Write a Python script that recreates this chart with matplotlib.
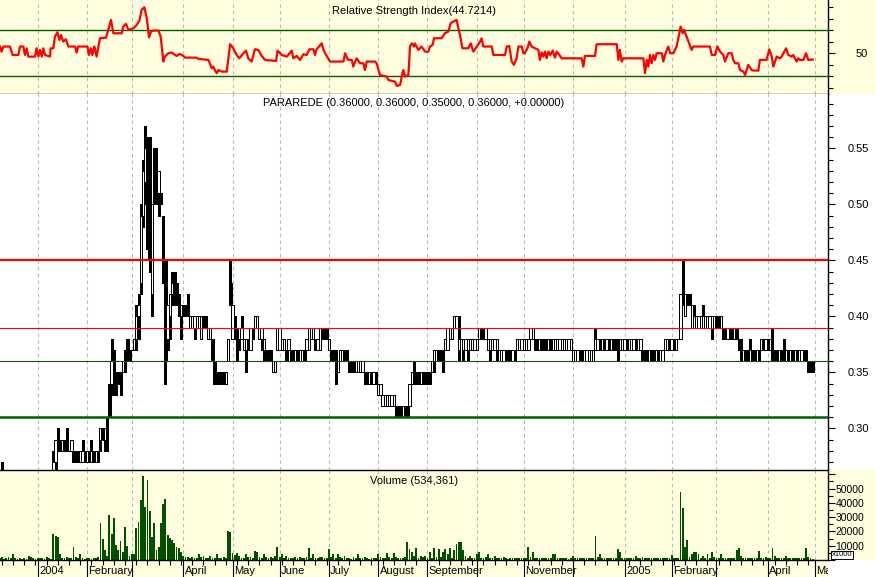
import numpy as np
import pandas as pd
import matplotlib
matplotlib.use("Agg")
import matplotlib.pyplot as plt
import matplotlib.transforms as mtransforms
from matplotlib.patches import Rectangle

plt.rcParams['font.family'] = ['Liberation Sans', 'DejaVu Sans']

# -------------------------------
# Data (prices in cents, volume in x1000 units)
# -------------------------------
dates = pd.bdate_range('2003-12-09', '2005-05-03')

opens = [25, 25, 26, 25, 26, 25, 25, 26, 25, 24,
         25, 26, 25, 26, 25, 25, 26, 25, 26, 25,
         26, 26, 25, 26, 26, 27, 29, 29, 28, 29,
         29, 28, 28, 28, 28, 28, 27, 27, 28, 27,
         28, 27, 28, 27, 28, 29, 30, 29, 31, 34,
         34, 35, 35, 35, 35, 35, 36, 38, 37, 37,
         37, 38, 40, 43, 49, 52, 55, 48, 42, 54,
         52, 51, 51, 48, 45, 38, 40, 42, 44, 43,
         42, 40, 41, 41, 41, 39, 39, 39, 39, 39,
         38, 40, 40, 38, 38, 38, 36, 35, 35, 35,
         35, 34, 36, 43, 38, 40, 39, 38, 38, 37,
         37, 38, 37, 39, 39, 39, 38, 38, 37, 37,
         37, 37, 35, 35, 37, 37, 37, 37, 37, 37,
         37, 37, 36, 37, 36, 36, 37, 37, 37, 38,
         38, 38, 37, 37, 39, 39, 39, 37, 37, 37,
         37, 35, 36, 36, 37, 37, 36, 36, 36, 35,
         35, 35, 35, 35, 35, 34, 35, 34, 35, 33,
         33, 32, 32, 32, 32, 32, 32, 32, 32, 32,
         31, 32, 32, 32, 34, 35, 35, 35, 34, 35,
         35, 35, 35, 35, 36, 36, 37, 37, 37, 37,
         37, 38, 38, 39, 39, 37, 36, 37, 37, 37,
         37, 37, 37, 37, 38, 39, 39, 38, 37, 37,
         37, 37, 37, 36, 36, 36, 37, 37, 37, 36,
         37, 37, 37, 37, 37, 37, 37, 38, 38, 38,
         38, 37, 38, 38, 38, 37, 38, 37, 37, 37,
         37, 37, 37, 37, 37, 37, 36, 36, 36, 37,
         37, 36, 36, 36, 36, 36, 37, 37, 38, 37,
         38, 37, 38, 37, 38, 38, 38, 37, 37, 37,
         38, 37, 37, 37, 38, 37, 37, 37, 37, 37,
         36, 37, 37, 36, 37, 36, 36, 37, 37, 38,
         37, 38, 37, 38, 38, 43, 40, 42, 42, 39,
         41, 39, 39, 39, 41, 39, 39, 39, 39, 39,
         40, 40, 39, 39, 39, 38, 39, 39, 38, 39,
         38, 38, 36, 37, 37, 36, 37, 37, 36, 37,
         37, 38, 37, 38, 37, 37, 37, 37, 36, 37,
         37, 36, 37, 36, 37, 36, 37, 36, 36, 37,
         37, 36, 36, 36]

highs = [26, 27, 26, 26, 26, 26, 26, 26, 25, 25,
         26, 26, 26, 26, 25, 26, 26, 26, 26, 26,
         26, 26, 26, 26, 28, 29, 30, 29, 29, 29,
         30, 28, 29, 28, 28, 28, 28, 29, 28, 28,
         28, 29, 28, 28, 28, 30, 30, 30, 31, 34,
         38, 37, 35, 35, 35, 36, 37, 38, 37, 37,
         38, 41, 42, 50, 54, 57, 56, 56, 50, 55,
         55, 53, 51, 49, 45, 41, 42, 44, 44, 43,
         42, 41, 41, 41, 42, 40, 40, 40, 40, 40,
         40, 40, 40, 39, 39, 38, 36, 35, 35, 35,
         35, 35, 38, 45, 41, 40, 39, 39, 40, 38,
         38, 38, 39, 39, 40, 40, 39, 39, 38, 37,
         37, 37, 36, 36, 39, 39, 38, 38, 37, 38,
         37, 37, 37, 37, 37, 37, 37, 38, 39, 39,
         39, 38, 38, 39, 39, 39, 39, 38, 37, 37,
         37, 36, 37, 37, 37, 37, 36, 36, 36, 36,
         36, 36, 36, 35, 35, 35, 35, 35, 35, 34,
         34, 33, 33, 33, 33, 33, 33, 32, 32, 32,
         32, 32, 32, 34, 35, 36, 35, 35, 35, 35,
         35, 35, 35, 36, 37, 37, 37, 37, 37, 38,
         39, 39, 39, 40, 40, 40, 38, 38, 38, 38,
         38, 38, 38, 38, 39, 39, 39, 39, 38, 38,
         38, 38, 38, 37, 37, 37, 37, 37, 37, 37,
         37, 38, 38, 38, 38, 38, 38, 39, 39, 38,
         38, 38, 38, 38, 38, 38, 38, 38, 38, 38,
         38, 38, 38, 38, 38, 38, 37, 37, 37, 37,
         37, 37, 37, 37, 37, 37, 39, 38, 38, 38,
         38, 38, 38, 38, 38, 38, 38, 38, 38, 38,
         38, 38, 38, 38, 38, 38, 38, 37, 37, 37,
         37, 37, 37, 37, 37, 37, 37, 38, 38, 38,
         38, 38, 38, 38, 42, 45, 42, 42, 42, 41,
         41, 40, 40, 40, 41, 40, 40, 40, 40, 40,
         40, 40, 40, 39, 39, 39, 39, 39, 39, 39,
         38, 38, 37, 37, 37, 38, 37, 37, 37, 37,
         38, 38, 38, 38, 38, 39, 37, 37, 37, 37,
         38, 37, 37, 37, 37, 37, 37, 37, 37, 37,
         37, 36, 36, 36]

lows = [24, 25, 25, 25, 25, 24, 25, 25, 24, 24,
        25, 25, 25, 25, 24, 25, 25, 25, 25, 25,
        25, 25, 25, 25, 26, 26, 28, 28, 28, 28,
        28, 28, 28, 27, 27, 27, 27, 27, 27, 27,
        27, 27, 27, 27, 27, 28, 29, 28, 28, 31,
        33, 33, 33, 34, 33, 35, 35, 36, 36, 37,
        37, 37, 38, 42, 48, 50, 46, 44, 40, 50,
        50, 49, 50, 43, 34, 37, 38, 41, 41, 41,
        40, 38, 40, 40, 40, 39, 39, 38, 39, 39,
        38, 39, 39, 38, 38, 36, 34, 34, 34, 34,
        34, 34, 36, 41, 38, 38, 36, 37, 38, 37,
        35, 37, 37, 38, 39, 39, 38, 37, 36, 36,
        36, 36, 35, 35, 37, 37, 37, 37, 36, 37,
        36, 36, 36, 36, 36, 36, 36, 37, 37, 38,
        38, 37, 37, 37, 38, 38, 38, 37, 36, 36,
        34, 35, 36, 36, 36, 36, 35, 35, 35, 35,
        35, 35, 35, 34, 34, 34, 34, 34, 34, 33,
        33, 32, 32, 32, 32, 32, 32, 31, 31, 31,
        31, 31, 31, 32, 34, 34, 34, 34, 34, 34,
        34, 34, 34, 35, 35, 36, 36, 36, 35, 37,
        37, 38, 38, 39, 39, 36, 36, 36, 37, 36,
        37, 37, 37, 37, 38, 38, 38, 38, 37, 36,
        37, 37, 36, 36, 36, 36, 36, 36, 36, 36,
        36, 37, 37, 37, 37, 37, 37, 38, 38, 37,
        37, 37, 37, 37, 37, 37, 37, 37, 37, 37,
        37, 37, 37, 37, 37, 37, 36, 36, 36, 36,
        36, 36, 36, 36, 36, 36, 37, 37, 37, 37,
        37, 37, 37, 37, 37, 37, 36, 37, 37, 37,
        37, 37, 37, 37, 37, 37, 37, 36, 36, 36,
        36, 36, 36, 36, 36, 36, 36, 37, 37, 37,
        37, 37, 37, 38, 38, 41, 40, 41, 41, 39,
        40, 39, 39, 39, 40, 39, 39, 39, 38, 39,
        39, 39, 39, 38, 38, 38, 38, 38, 38, 38,
        37, 36, 36, 36, 36, 36, 36, 36, 36, 36,
        37, 37, 37, 37, 37, 36, 36, 36, 36, 36,
        36, 36, 36, 36, 36, 36, 36, 36, 36, 36,
        36, 35, 35, 35]

closes = [25, 26, 25, 26, 25, 25, 26, 25, 24, 25,
          26, 25, 26, 25, 25, 26, 25, 26, 25, 26,
          26, 25, 26, 26, 27, 29, 28, 28, 29, 28,
          28, 28, 29, 27, 27, 27, 28, 28, 27, 28,
          27, 28, 27, 28, 27, 30, 29, 30, 30, 31,
          36, 34, 34, 34, 34, 36, 36, 36, 37, 37,
          38, 40, 41, 49, 53, 55, 47, 45, 50, 51,
          50, 53, 50, 45, 36, 41, 42, 43, 41, 41,
          41, 41, 40, 40, 40, 40, 40, 40, 40, 40,
          40, 39, 39, 39, 39, 36, 34, 34, 34, 34,
          34, 35, 38, 41, 41, 38, 37, 39, 39, 38,
          38, 37, 39, 38, 40, 40, 39, 39, 38, 36,
          36, 36, 36, 36, 39, 39, 38, 38, 36, 38,
          36, 36, 37, 36, 37, 37, 36, 38, 39, 39,
          39, 37, 38, 39, 38, 38, 38, 38, 36, 36,
          36, 36, 37, 37, 36, 36, 35, 35, 35, 36,
          36, 36, 36, 34, 34, 35, 34, 35, 34, 34,
          34, 33, 33, 33, 33, 33, 33, 31, 31, 31,
          32, 31, 31, 34, 35, 34, 34, 34, 35, 34,
          34, 34, 34, 36, 37, 37, 36, 36, 36, 38,
          39, 39, 39, 40, 40, 38, 38, 38, 38, 38,
          38, 38, 38, 38, 39, 38, 38, 39, 38, 38,
          38, 38, 38, 37, 37, 37, 36, 36, 36, 37,
          36, 38, 38, 38, 38, 38, 38, 39, 39, 37,
          37, 38, 37, 37, 37, 38, 37, 38, 38, 38,
          38, 38, 38, 38, 38, 38, 37, 37, 37, 36,
          36, 37, 37, 37, 37, 37, 38, 38, 37, 38,
          37, 38, 37, 38, 37, 37, 37, 38, 38, 38,
          37, 38, 38, 38, 37, 38, 38, 36, 36, 36,
          37, 36, 36, 37, 36, 37, 37, 38, 38, 37,
          38, 37, 38, 38, 42, 41, 42, 41, 41, 41,
          40, 40, 40, 40, 40, 40, 40, 40, 40, 40,
          39, 39, 40, 38, 38, 39, 38, 38, 39, 38,
          37, 37, 37, 36, 36, 37, 36, 36, 37, 36,
          38, 37, 38, 37, 38, 37, 36, 36, 37, 36,
          37, 37, 36, 37, 36, 37, 36, 37, 37, 36,
          36, 36, 35, 35]

volume = [1200, 1800, 900, 1500, 2100, 1100, 3900, 1300, 800, 1600,
          1000, 1400, 900, 2900, 2400, 1200, 700, 1500, 1100, 1300,
          900, 1800, 1200, 1000, 18000, 16800, 16300, 4500, 1500, 1200,
          2000, 1100, 1500, 9300, 1800, 1200, 4500, 1300, 900, 1100,
          1400, 1000, 1200, 1600, 2200, 25700, 14700, 6900, 2500, 31600,
          18000, 29700, 10400, 6900, 13300, 5750, 23300, 10000, 2600, 3900,
          4500, 22600, 26900, 42100, 58600, 37400, 55700, 34600, 15800, 25700,
          6900, 8800, 25700, 39100, 42600, 17500, 15100, 14000, 11600, 8800,
          8600, 5750, 2700, 2000, 1800, 1600, 2200, 1500, 1300, 4500,
          1900, 2700, 1400, 1200, 2900, 1600, 1100, 3900, 1500, 1200,
          1800, 1300, 20300, 19400, 5000, 3400, 5000, 2600, 1500, 1200,
          4500, 1800, 2300, 1500, 6200, 5750, 2200, 1600, 4500, 2000,
          1400, 1800, 1200, 2600, 9300, 2000, 4500, 1500, 2900, 1300,
          1100, 1600, 2200, 1300, 1800, 1500, 1200, 2400, 8100, 1600,
          3900, 1200, 1500, 2300, 1800, 1100, 1400, 7900, 2000, 4500,
          1300, 4500, 1800, 1200, 2900, 1400, 1600, 1000, 1900, 1300,
          4500, 1500, 1200, 1800, 1400, 900, 1600, 1300, 1100, 3900,
          1800, 1500, 1200, 5000, 2400, 1700, 5000, 2100, 1600, 1300,
          1200, 1800, 12300, 7400, 5750, 2800, 8600, 1600, 2500, 2200,
          2600, 1200, 5750, 1400, 8600, 2000, 7400, 1800, 5300, 7400,
          4500, 8100, 1600, 6900, 10900, 12300, 12300, 6900, 2900, 1400,
          2900, 1200, 1700, 4500, 5300, 1500, 1200, 1800, 3900, 1300,
          1100, 2900, 1400, 1200, 1600, 2200, 1300, 1000, 1500, 1200,
          1400, 1100, 1600, 1300, 1200, 1500, 8800, 1800, 5300, 1400,
          1200, 1600, 1100, 1300, 1500, 1200, 1400, 3900, 3900, 1300,
          1100, 1500, 1200, 1600, 1000, 1300, 2900, 1400, 1200, 1100,
          1500, 1300, 1600, 1200, 1400, 1100, 17000, 1800, 3900, 1300,
          1200, 1500, 1100, 1400, 1300, 1600, 7400, 5300, 1200, 1500,
          1100, 1300, 1600, 1200, 2900, 1400, 1100, 2200, 1300, 1600,
          1200, 1500, 1100, 1300, 1600, 1200, 1400, 1100, 1500, 1300,
          3400, 1200, 1500, 1100, 47500, 36300, 8800, 13700, 1800, 3900,
          5300, 5750, 4500, 1600, 2900, 1300, 3900, 1500, 5300, 1800,
          1200, 1600, 4500, 1300, 1500, 1100, 1400, 1200, 1600, 6900,
          8600, 2900, 1300, 1500, 1200, 1600, 1100, 1400, 1300, 6200,
          1500, 1200, 1800, 1300, 1600, 8600, 2900, 1200, 1500, 1300,
          1100, 2900, 1400, 1200, 1600, 1300, 1100, 1500, 1200, 1400,
          8600, 2200, 1200, 534]

# RSI line: (bar index, RSI)
rsi_points = [
    (0.2, 55.9), (0.9, 51.5), (1.7, 55.9), (4.6, 55.9), (5.8, 48.6), (8.4, 48.6),
    (9.1, 55.9), (10.6, 55.9), (11.3, 48.6), (12.1, 54.4), (12.8, 47.2), (15.8, 47.2),
    (16.5, 54.4), (17.3, 47.2), (18.0, 53.0), (18.8, 47.2), (19.5, 54.4), (20.3, 48.6),
    (22.5, 47.2), (22.8, 54.4), (24.0, 54.4), (24.7, 64.5), (25.8, 68.3), (26.7, 61.6),
    (27.4, 66.0), (28.4, 60.2), (29.6, 62.2), (30.7, 55.9), (33.7, 55.9), (34.4, 50.7),
    (35.1, 55.9), (39.2, 55.9), (39.9, 48.6), (40.7, 54.4), (41.4, 48.6), (42.3, 55.9),
    (43.3, 47.2), (44.8, 63.1), (47.5, 63.6), (48.5, 70.3), (49.7, 79.0), (50.8, 67.4),
    (54.5, 67.4), (55.2, 73.2), (56.4, 75.5), (57.5, 70.3), (58.5, 70.9), (59.7, 71.7),
    (61.2, 74.6), (62.4, 78.4), (63.4, 87.6), (64.6, 89.9), (65.7, 80.4), (66.7, 63.9),
    (67.6, 68.8), (68.6, 69.7), (70.9, 69.7), (71.9, 64.5), (73.1, 42.9), (73.8, 47.2),
    (75.3, 50.1), (76.8, 50.7), (79.0, 47.8), (80.5, 49.5), (82.0, 47.8), (82.8, 46.3),
    (88.0, 46.3), (88.7, 45.2), (93.2, 44.3), (94.7, 37.1), (95.4, 38.5), (96.2, 35.1),
    (96.9, 32.8), (97.7, 35.6), (99.1, 34.2), (101.4, 34.2), (102.9, 57.9), (104.3, 54.4),
    (105.8, 48.6), (107.0, 45.7), (108.8, 50.1), (110.0, 52.4), (111.0, 45.7), (112.5, 42.9),
    (114.0, 53.5), (115.5, 53.0), (117.0, 47.8), (118.5, 44.3), (123.4, 43.4), (124.1, 52.4),
    (125.9, 48.6), (128.2, 47.2), (130.4, 52.4), (131.1, 45.7), (132.6, 47.8), (134.1, 44.3),
    (135.6, 49.2), (137.1, 48.6), (138.3, 53.5), (140.1, 53.5), (140.8, 48.6), (141.5, 53.5),
    (143.8, 58.7), (144.5, 53.5), (145.3, 50.1), (147.5, 42.9), (153.5, 42.9), (154.2, 50.1),
    (155.2, 45.7), (155.7, 44.3), (157.2, 44.3), (157.9, 38.5), (158.7, 42.9), (159.4, 45.7),
    (160.9, 41.4), (162.4, 41.4), (163.1, 35.6), (163.9, 42.9), (167.6, 42.9), (168.3, 41.4),
    (169.8, 31.3), (172.8, 29.9), (173.5, 27.0), (176.5, 25.5), (177.3, 21.8), (178.8, 22.7),
    (179.5, 29.9), (180.2, 35.6), (181.0, 29.9), (182.5, 31.3), (183.2, 56.0), (184.0, 58.7),
    (185.0, 55.9), (185.4, 58.7), (186.9, 53.0), (188.4, 55.9), (189.9, 51.5), (191.4, 51.5),
    (192.1, 55.9), (193.3, 57.3), (193.9, 63.1), (197.3, 63.1), (198.8, 67.4), (200.3, 68.8),
    (201.4, 76.1), (202.5, 77.5), (204.0, 79.0), (204.8, 71.7), (205.5, 66.0), (206.6, 54.4),
    (209.2, 54.4), (210.3, 58.7), (211.5, 51.5), (213.0, 55.9), (214.5, 60.2), (215.2, 63.1),
    (215.9, 55.9), (219.7, 55.9), (220.4, 48.6), (225.6, 48.6), (226.4, 55.9), (227.5, 56.4),
    (228.6, 42.9), (229.6, 40.0), (230.8, 45.7), (231.6, 55.9), (233.1, 55.9), (233.8, 50.1),
    (234.5, 50.1), (235.6, 54.4), (236.5, 60.2), (237.5, 55.9), (239.0, 54.4), (240.5, 53.0),
    (241.2, 44.3), (242.0, 50.7), (242.7, 47.2), (243.5, 51.5), (244.2, 45.7), (245.0, 51.5),
    (245.7, 48.6), (246.9, 52.4), (247.9, 46.3), (248.7, 51.5), (249.9, 48.6), (250.9, 45.7),
    (259.8, 45.7), (260.6, 38.5), (261.3, 47.8), (265.8, 47.8), (266.5, 57.9), (275.5, 57.9),
    (276.2, 44.3), (276.9, 53.0), (277.7, 42.9), (278.4, 45.7), (287.4, 45.7), (288.1, 32.8),
    (288.9, 44.3), (289.6, 38.5), (290.3, 48.6), (291.1, 41.4), (291.8, 48.6), (292.6, 44.3),
    (293.3, 50.1), (295.6, 50.1), (296.3, 42.9), (297.0, 48.6), (298.5, 55.9), (299.3, 50.1),
    (300.8, 50.1), (302.2, 55.9), (303.0, 63.1), (304.0, 73.2), (304.9, 67.4), (305.5, 70.3),
    (306.4, 66.0), (307.5, 60.2), (308.9, 53.0), (309.7, 55.9), (317.1, 55.9), (317.9, 48.6),
    (319.4, 48.6), (320.4, 55.9), (321.6, 51.5), (323.1, 48.6), (323.8, 42.9), (325.3, 50.1),
    (326.8, 50.1), (327.5, 44.3), (328.3, 41.4), (329.8, 41.4), (330.5, 35.6), (332.0, 34.2),
    (332.8, 31.3), (334.2, 40.0), (335.7, 35.6), (336.5, 35.1), (338.7, 35.1), (339.4, 44.3),
    (342.4, 44.3), (343.6, 53.5), (344.7, 47.2), (345.4, 38.5), (346.9, 47.2), (348.4, 45.7),
    (349.1, 47.2), (351.1, 54.4), (352.1, 48.6), (353.6, 47.2), (354.3, 48.6), (355.8, 42.9),
    (356.6, 45.7), (357.3, 44.3), (358.8, 44.3), (360.0, 50.1), (361.0, 44.3), (363.0, 44.7),
]

month_labels = ['2004', 'February', '', 'April', 'May', 'June', 'July', 'August',
                'September', '', 'November', '', '2005', 'February', '', 'April', 'May']

rsi_title = 'Relative Strength Index(44.7214)'
price_title = 'PARAREDE (0.36000, 0.36000, 0.35000, 0.36000, +0.00000)'
volume_title = 'Volume (534,361)'

# -------------------------------
# Layout helpers
# -------------------------------
W, H = 875, 577
YELLOW = '#ffffe0'
GREEN = '#006000'
GRID = '#b8b8b8'
XMIN, XMAX = 0.17, 369.8

month_starts = [i for i in range(1, len(dates)) if dates[i].month != dates[i - 1].month]
week_ticks = [i for i, d in enumerate(dates) if d.weekday() == 2]

fig = plt.figure(figsize=(W / 100, H / 100), dpi=100)
fig.patch.set_facecolor('white')


def px_rect(x0, y0, x1, y1):
    return [x0 / W, 1 - y1 / H, (x1 - x0) / W, (y1 - y0) / H]


for x0, y0, x1, y1, c in [(0, 0, W, 94, YELLOW), (0, 470, W, H, YELLOW),
                          (828, 560, W, H, 'white')]:
    r = px_rect(x0, y0, x1, y1)
    fig.patches.append(Rectangle((r[0], r[1]), r[2], r[3], transform=fig.transFigure,
                                 facecolor=c, edgecolor='none', zorder=-5))

ax_r = fig.add_axes(px_rect(0, 0, 828, 94))
ax_p = fig.add_axes(px_rect(0, 94, 828, 470))
ax_v = fig.add_axes(px_rect(0, 470, 828, 560))

for ax, bg in [(ax_r, YELLOW), (ax_p, 'white'), (ax_v, YELLOW)]:
    ax.set_facecolor(bg)
    ax.set_xlim(XMIN, XMAX)
    for s in ['left', 'top', 'bottom', 'right']:
        ax.spines[s].set_visible(False)
        ax.spines[s].set_linewidth(1.0)
    ax.spines['right'].set_visible(True)
    ax.yaxis.tick_right()
    ax.tick_params(axis='y', which='both', direction='out', colors='black', width=0.8)
    ax.tick_params(axis='y', which='major', length=5.0)
    ax.tick_params(axis='y', which='minor', length=3.6)
    ax.set_xticks([])
    for b in month_starts:
        ax.axvline(b, color=GRID, lw=0.8, ls=(0, (3, 3)), zorder=0)

ax_r.spines['bottom'].set_visible(True)
ax_v.spines['top'].set_visible(True)
ax_v.spines['bottom'].set_visible(True)

# -------------------------------
# RSI panel
# -------------------------------
rx = [p[0] for p in rsi_points]
ry = [p[1] for p in rsi_points]
ax_r.set_ylim(14.8, 96.2)
ax_r.axhline(70, color=GREEN, lw=1.0, zorder=2)
ax_r.axhline(30, color=GREEN, lw=1.0, zorder=2)
ax_r.plot(rx, ry, color='red', lw=1.6, zorder=3)
ax_r.set_yticks([50])
ax_r.set_yticklabels(['50'])
ax_r.set_yticks([20, 30, 40, 60, 70, 80, 90], minor=True)
ax_r.tick_params(axis='y', which='major', labelsize=8, pad=15)
ax_r.text(0.5, 1 - 10.5 / 94, rsi_title, transform=ax_r.transAxes,
          ha='center', va='center', fontsize=8)

# -------------------------------
# Price panel
# -------------------------------
idx = np.arange(len(closes))
o = np.array(opens) / 100
h = np.array(highs) / 100
l = np.array(lows) / 100
c = np.array(closes) / 100
body_lo = np.minimum(o, c)
body_h = np.abs(c - o)
faces = ['black' if cc < oo else 'white' for oo, cc in zip(o, c)]

ax_p.set_ylim(0.2628, 0.5985)
ax_p.vlines(idx, l, h, color='black', lw=0.8, zorder=2, antialiased=False)
ax_p.bar(idx, body_h, bottom=body_lo, width=1.1, color=faces, edgecolor='black',
         linewidth=0.7, zorder=2, antialiased=False)
ax_p.axhline(0.45, color='red', lw=1.6, zorder=4)
ax_p.axhline(0.39, color='red', lw=0.8, zorder=4)
ax_p.axhline(0.36, color=GREEN, lw=0.8, zorder=4)
ax_p.axhline(0.31, color=GREEN, lw=1.8, zorder=4)
ax_p.set_yticks([0.30, 0.35, 0.40, 0.45, 0.50, 0.55])
ax_p.set_yticklabels(['0.30', '0.35', '0.40', '0.45', '0.50', '0.55'])
ax_p.set_yticks(np.arange(27, 60) / 100, minor=True)
ax_p.tick_params(axis='y', which='major', labelsize=8, pad=9.4)
ax_p.text(0.5, 1 - 9 / 376, price_title, transform=ax_p.transAxes,
          ha='center', va='center', fontsize=8)

# -------------------------------
# Volume panel
# -------------------------------
ax_v.set_ylim(0, 63000)
ax_v.bar(idx, volume, width=0.8, color='#005000', zorder=2, antialiased=False)
ax_v.set_yticks([0, 10000, 20000, 30000, 40000, 50000, 60000])
ax_v.set_yticklabels(['', '10000', '20000', '30000', '40000', '50000', ''])
ax_v.set_yticks(np.arange(5000, 60000, 10000), minor=True)
ax_v.tick_params(axis='y', which='major', labelsize=7.5, pad=0.5)
ax_v.text(0.5, 1 - 10.5 / 90, volume_title, transform=ax_v.transAxes,
          ha='center', va='center', fontsize=8)

ax_v.set_xticks(week_ticks)
ax_v.tick_params(axis='x', which='major', bottom=True, length=3.6, width=0.8,
                 direction='out', labelbottom=False)
ax_v.set_xlim(XMIN, XMAX)

fig.text(842 / W, 1 - 555 / H, 'x1000', fontsize=5.5, ha='center', va='center',
         zorder=10, bbox=dict(boxstyle='square,pad=0.12', fc='white', ec='black', lw=0.7))

# month separators and labels under the volume panel
trans = mtransforms.blended_transform_factory(ax_v.transData, fig.transFigure)
clip = Rectangle((0, 0), 828 / W, 1, transform=fig.transFigure, visible=False)
fig.patches.append(clip)
for b, lab in zip(month_starts, month_labels):
    ax_v.plot([b, b], [1 - 560 / H, 0], transform=trans, color='black', lw=0.8,
              clip_on=False)
    t = ax_v.text(b + 0.6, 1 - 571 / H, lab, transform=trans, ha='left', va='center',
                  fontsize=8, clip_on=True)
    t.set_clip_path(clip)

fig.savefig('out.png', dpi=100)
